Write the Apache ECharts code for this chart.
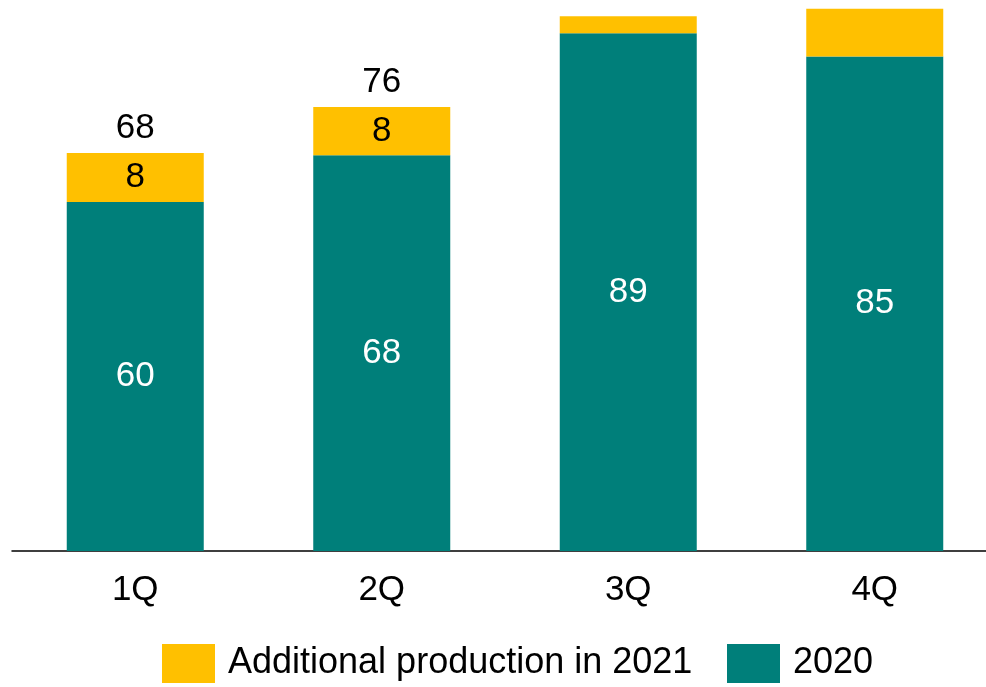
<!DOCTYPE html>
<html>
<head>
<meta charset="utf-8">
<script src="https://cdn.jsdelivr.net/npm/echarts@6/dist/echarts.min.js"></script>
<style>
  html, body { margin: 0; padding: 0; background: #fff; overflow: hidden; }
  /* a little wider than the window: the last category band runs off the right edge, as in the source */
  #chart { width: 998px; height: 687px; }
</style>
</head>
<body>
<div id="chart"></div>
<script>
const quarters = ['1Q', '2Q', '3Q', '4Q'];
const base2020 = [60, 68, 89, 85];
const additional2021 = [8.4, 8.3, 2.9, 8.2];
const showAddLabel = [true, true, false, false];
const showTotal = [true, true, false, false];

const TEAL = '#007f7a';
const GOLD = '#ffc000';
const FONT = '"Liberation Sans", Arial, sans-serif';

const chart = echarts.init(document.getElementById('chart'), null, { renderer: 'canvas' });

const legendText = { fontFamily: FONT, fontSize: 36, color: '#000', padding: [0, 0, 0, 8] };

chart.setOption({
  animation: false,
  grid: { left: 12, top: 0, right: 0, height: 551, containLabel: false },
  // two legend blocks so each swatch sits where the reference puts it
  legend: [
    {
      data: ['Additional production in 2021'],
      left: 162, top: 644,
      padding: 0,
      itemWidth: 53, itemHeight: 39,
      icon: 'rect', selectedMode: false,
      textStyle: legendText
    },
    {
      data: ['2020'],
      left: 727, top: 644,
      padding: 0,
      itemWidth: 53, itemHeight: 39,
      icon: 'rect', selectedMode: false,
      textStyle: legendText
    }
  ],
  xAxis: {
    type: 'category',
    data: quarters,
    axisLine: { lineStyle: { color: '#000', width: 1.5 } },
    axisTick: { show: false },
    axisLabel: { fontFamily: FONT, fontSize: 35, color: '#000', margin: 22 }
  },
  yAxis: {
    type: 'value',
    min: 0,
    max: 94.7,
    show: false,
    splitLine: { show: false }
  },
  series: [
    {
      name: '2020',
      type: 'bar',
      stack: 'total',
      barWidth: 137,
      data: base2020,
      itemStyle: { color: TEAL },
      label: {
        show: true,
        position: 'inside',
        color: '#fff',
        fontFamily: FONT,
        fontSize: 35
      }
    },
    {
      name: 'Additional production in 2021',
      type: 'bar',
      stack: 'total',
      barWidth: 137,
      data: additional2021,
      itemStyle: { color: GOLD },
      label: {
        show: true,
        position: 'inside',
        color: '#000',
        fontFamily: FONT,
        fontSize: 35,
        formatter: p => showAddLabel[p.dataIndex] ? String(Math.round(p.value)) : ''
      }
    },
    {
      name: 'totals',
      type: 'bar',
      stack: 'total',
      barWidth: 137,
      data: quarters.map(() => 0),
      itemStyle: { color: 'transparent' },
      label: {
        show: true,
        position: 'top',
        distance: 7,
        color: '#000',
        fontFamily: FONT,
        fontSize: 35,
        formatter: p => showTotal[p.dataIndex]
          ? String(Math.round(base2020[p.dataIndex] + additional2021[p.dataIndex])) : ''
      }
    }
  ]
});
</script>
</body>
</html>
